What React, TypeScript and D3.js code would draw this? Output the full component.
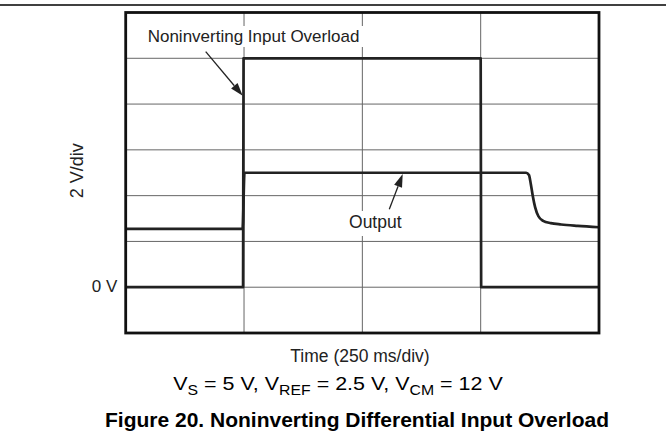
import React from 'react';
import * as d3 from 'd3';

// time in ms (250 ms/div), voltage in V (2 V/div)
const timeTicks = [0, 250, 500, 750, 1000];
const voltTicks = [-2, 0, 2, 4, 6, 8, 10, 12];

const inputT = [0, 248, 249, 750, 751, 1000];
const inputV = [0, 0, 10, 10, 0, 0];

const outputT = [0, 247, 251, 846, 852, 856, 860, 865, 872, 882, 898, 920, 955, 1000];
const outputV = [2.55, 2.55, 5.0, 5.0, 4.9, 4.5, 4.0, 3.5, 3.1, 2.9, 2.8, 2.74, 2.68, 2.62];

const W = 666;
const H = 445;
const plot = { left: 125.7, right: 599, top: 12.5, bottom: 333 };
const font = '"Liberation Sans", Arial, sans-serif';
const ink = '#222';

export default function App() {
  const x = d3.scaleLinear().domain([0, 1000]).range([plot.left, plot.right]);
  const y = d3.scaleLinear().domain([-2, 12]).range([plot.bottom, plot.top]);

  const inputPath = d3
    .line<[number, number]>()
    .x((d) => x(d[0]))
    .y((d) => y(d[1]))(inputT.map((t, i) => [t, inputV[i]]));
  const outputPath = d3
    .line<[number, number]>()
    .x((d) => x(d[0]))
    .y((d) => y(d[1]))
    .curve(d3.curveMonotoneX)(outputT.map((t, i) => [t, outputV[i]]));

  // arrow helper: shaft + filled head
  const arrow = (x1: number, y1: number, x2: number, y2: number) => {
    const a = Math.atan2(y2 - y1, x2 - x1);
    const len = 13;
    const half = 4.2;
    const bx = x2 - len * Math.cos(a);
    const by = y2 - len * Math.sin(a);
    const p1 = [bx + half * Math.sin(a), by - half * Math.cos(a)];
    const p2 = [bx - half * Math.sin(a), by + half * Math.cos(a)];
    return (
      <g>
        <line x1={x1} y1={y1} x2={bx} y2={by} stroke={ink} strokeWidth={1.3} />
        <path d={`M${x2},${y2}L${p1[0]},${p1[1]}L${p2[0]},${p2[1]}Z`} fill={ink} />
      </g>
    );
  };

  return (
    <svg width={W} height={H} style={{ position: 'absolute', left: 0, top: 0, background: '#fff' }} fontFamily={font}>
      <rect width={W} height={H} fill="#fff" />
      <line x1={0} x2={W} y1={5} y2={5} stroke="#000" strokeWidth={1.5} />

      {/* grid */}
      {timeTicks.slice(1, -1).map((t) => (
        <line key={'vx' + t} x1={x(t)} x2={x(t)} y1={plot.top} y2={plot.bottom} stroke="#666" strokeWidth={1} />
      ))}
      {voltTicks.slice(1, -1).map((v) => (
        <line key={'hy' + v} x1={plot.left} x2={plot.right} y1={y(v)} y2={y(v)} stroke="#666" strokeWidth={1} />
      ))}

      {/* traces */}
      <path d={inputPath || ''} fill="none" stroke={ink} strokeWidth={2.7} strokeLinejoin="round" />
      <path d={outputPath || ''} fill="none" stroke={ink} strokeWidth={2.7} strokeLinejoin="round" />

      {/* frame */}
      <rect x={plot.left} y={plot.top} width={plot.right - plot.left} height={plot.bottom - plot.top} fill="none" stroke="#111" strokeWidth={2.8} />

      {/* annotations */}
      <rect x={145} y={26} width={227} height={21} fill="#fff" />
      <text x={147.7} y={41.7} fontSize={17} fill={ink}>Noninverting Input Overload</text>
      {arrow(205.7, 51.7, 242.7, 95.7)}

      <rect x={346} y={211} width={59} height={25} fill="#fff" />
      <text x={375.3} y={228.3} fontSize={17.5} fill={ink} textAnchor="middle">Output</text>
      {arrow(389.3, 209.3, 402.7, 174)}

      {/* axis labels */}
      <text x={117.3} y={291.7} fontSize={17} fill={ink} textAnchor="end">0 V</text>
      <text transform="translate(83.3,170.8) rotate(-90)" fontSize={18} fill={ink} textAnchor="middle">2 V/div</text>

      <text x={360} y={361.5} fontSize={17.5} fill={ink} textAnchor="middle">Time (250 ms/div)</text>
      <text transform="translate(338,390) scale(1.13,1)" fontSize={19} fill="#000" textAnchor="middle">
        V<tspan fontSize={14} dy={5}>S</tspan>
        <tspan dy={-5}> = 5 V, V</tspan>
        <tspan fontSize={14} dy={5}>REF</tspan>
        <tspan dy={-5}> = 2.5 V, V</tspan>
        <tspan fontSize={14} dy={5}>CM</tspan>
        <tspan dy={-5}> = 12 V</tspan>
      </text>

      <text x={357} y={426.7} fontSize={21} fontWeight="bold" fill="#000" textAnchor="middle">
        Figure 20. Noninverting Differential Input Overload
      </text>
    </svg>
  );
}
